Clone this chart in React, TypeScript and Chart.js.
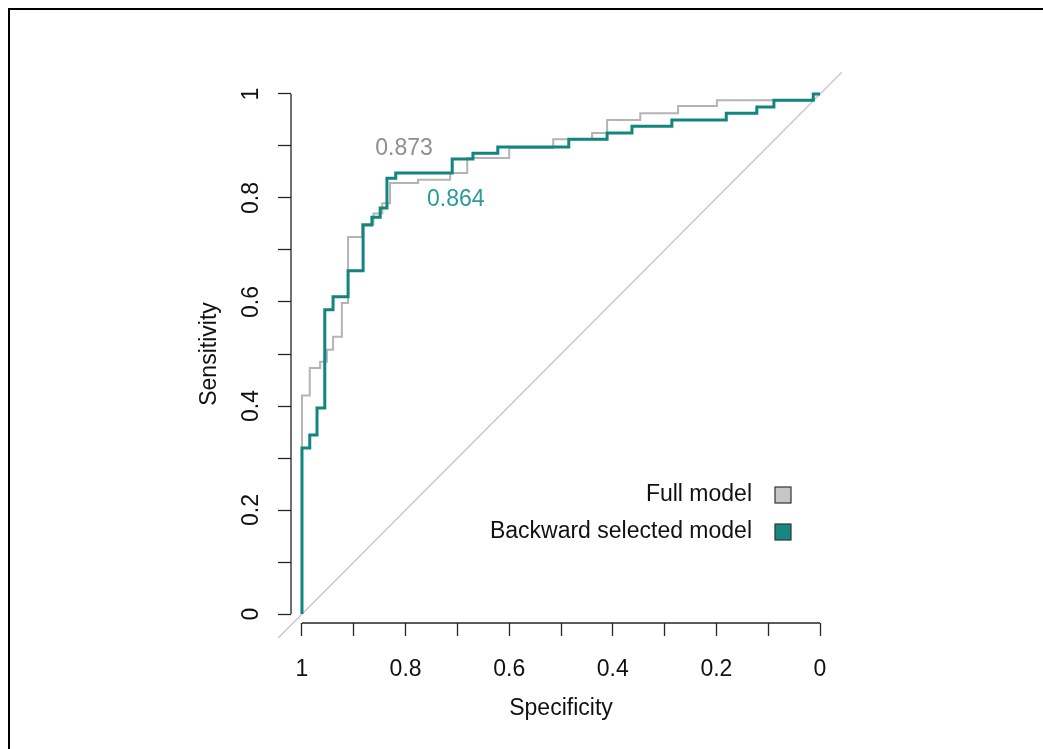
import React, { useEffect, useRef } from "react";
import { Chart, registerables } from "chart.js";

Chart.register(...registerables);

// ---- data (specificity, sensitivity) ----
const FULL_SPEC = [
  1.0, 1.0, 0.985, 0.985, 0.965, 0.965, 0.952, 0.952, 0.94, 0.94, 0.923, 0.923,
  0.911, 0.911, 0.884, 0.884, 0.862, 0.862, 0.845, 0.845, 0.83, 0.83, 0.776,
  0.776, 0.714, 0.714, 0.681, 0.681, 0.6, 0.6, 0.515, 0.515, 0.44, 0.44, 0.411,
  0.411, 0.347, 0.347, 0.274, 0.274, 0.199, 0.199, 0.013, 0.013, 0.0,
];
const FULL_SENS = [
  0.0, 0.42, 0.42, 0.473, 0.473, 0.485, 0.485, 0.508, 0.508, 0.533, 0.533, 0.598,
  0.598, 0.725, 0.725, 0.75, 0.75, 0.77, 0.77, 0.79, 0.79, 0.829, 0.829, 0.835,
  0.835, 0.848, 0.848, 0.877, 0.877, 0.896, 0.896, 0.913, 0.913, 0.925, 0.925,
  0.95, 0.95, 0.963, 0.963, 0.977, 0.977, 0.988, 0.988, 1.0, 1.0,
];
const BACK_SPEC = [
  1.0, 1.0, 0.985, 0.985, 0.971, 0.971, 0.956, 0.956, 0.94, 0.94, 0.911, 0.911,
  0.882, 0.882, 0.865, 0.865, 0.849, 0.849, 0.836, 0.836, 0.819, 0.819, 0.71,
  0.71, 0.67, 0.67, 0.622, 0.622, 0.485, 0.485, 0.411, 0.411, 0.363, 0.363,
  0.286, 0.286, 0.181, 0.181, 0.122, 0.122, 0.089, 0.089, 0.013, 0.013, 0.0,
];
const BACK_SENS = [
  0.0, 0.319, 0.319, 0.344, 0.344, 0.396, 0.396, 0.585, 0.585, 0.61, 0.61, 0.66,
  0.66, 0.748, 0.748, 0.763, 0.763, 0.781, 0.781, 0.838, 0.838, 0.848, 0.848,
  0.875, 0.875, 0.886, 0.886, 0.898, 0.898, 0.913, 0.913, 0.925, 0.925, 0.938,
  0.938, 0.95, 0.95, 0.963, 0.963, 0.975, 0.975, 0.988, 0.988, 1.0, 1.0,
];
const DIAG_SPEC = [1.046, -0.042];
const DIAG_SENS = [-0.046, 1.042];
const TICK_VALUES = [0, 0.1, 0.2, 0.3, 0.4, 0.5, 0.6, 0.7, 0.8, 0.9, 1];
const SERIES_NAMES = ["Full model", "Backward selected model"];
const AUC_TEXT = ["0.873", "0.864"];

const FONT = "'Liberation Sans', Arial, Helvetica, sans-serif";
const FS = 23;
const TEAL = "#12857f";
const TEAL_TEXT = "#2a9b98";
const GRAY = "#b4b4b4";
const GRAY_TEXT = "#8e8e8e";
const AXIS = "#262626";

const toPts = (xs: number[], ys: number[]) => xs.map((x, i) => ({ x, y: ys[i] }));

const axisLinePlugin = {
  id: "axisLines",
  afterDraw(chart: any) {
    const { ctx, chartArea, scales } = chart;
    const xs = scales.x;
    const ys = scales.y;
    ctx.save();
    ctx.strokeStyle = AXIS;
    ctx.lineWidth = 1.3;
    ctx.beginPath();
    ctx.moveTo(xs.getPixelForValue(1), chartArea.bottom);
    ctx.lineTo(xs.getPixelForValue(0), chartArea.bottom);
    ctx.moveTo(chartArea.left, ys.getPixelForValue(0));
    ctx.lineTo(chartArea.left, ys.getPixelForValue(1));
    ctx.stroke();
    ctx.restore();
  },
};

const aucPlugin = {
  id: "aucText",
  afterDatasetsDraw(chart: any, _args: any, opts: any) {
    const { ctx, scales } = chart;
    ctx.save();
    ctx.font = `${FS}px ${FONT}`;
    ctx.textAlign = "center";
    ctx.textBaseline = "middle";
    (opts.items || []).forEach((it: any) => {
      ctx.fillStyle = it.color;
      ctx.fillText(it.text, scales.x.getPixelForValue(it.spec), scales.y.getPixelForValue(it.sens));
    });
    ctx.restore();
  },
};

const legendPlugin = {
  id: "rocLegend",
  afterDraw(chart: any, _args: any, opts: any) {
    const { ctx } = chart;
    ctx.save();
    ctx.font = `${FS}px ${FONT}`;
    ctx.textAlign = "right";
    ctx.textBaseline = "middle";
    SERIES_NAMES.forEach((name, i) => {
      const ds = chart.data.datasets.find((d: any) => d.label === name);
      if (!ds) return;
      const y = opts.y + i * opts.gap;
      ctx.fillStyle = "#111";
      ctx.fillText(name, opts.textRight, y);
      const s = opts.box;
      ctx.fillStyle = ds.legendFill || ds.borderColor;
      ctx.fillRect(opts.boxX - s / 2, y - s / 2, s, s);
      ctx.strokeStyle = "#333";
      ctx.lineWidth = 1.2;
      ctx.strokeRect(opts.boxX - s / 2, y - s / 2, s, s);
    });
    ctx.restore();
  },
};

export default function App() {
  const ref = useRef<HTMLCanvasElement>(null);

  useEffect(() => {
    if (!ref.current) return;
    const tickFmt = (v: any) => {
      const n = Number(v);
      return Math.round(n * 10) % 2 === 0 ? String(Math.round(n * 10) / 10) : "";
    };
    const chart = new Chart(ref.current, {
      type: "line",
      data: {
        datasets: [
          {
            label: SERIES_NAMES[1],
            data: toPts(BACK_SPEC, BACK_SENS),
            borderColor: TEAL,
            legendFill: "#17877f",
            borderWidth: 3,
            pointRadius: 0,
            tension: 0,
            fill: false,
          } as any,
          {
            label: SERIES_NAMES[0],
            data: toPts(FULL_SPEC, FULL_SENS),
            borderColor: GRAY,
            legendFill: "#c6c6c6",
            borderWidth: 2,
            pointRadius: 0,
            tension: 0,
            fill: false,
          } as any,
          {
            label: "diagonal",
            data: toPts(DIAG_SPEC, DIAG_SENS),
            borderColor: "#c9c9c9",
            borderWidth: 1.5,
            pointRadius: 0,
            tension: 0,
            fill: false,
            clip: false,
          } as any,
        ],
      },
      options: {
        animation: false,
        responsive: false,
        events: [],
        layout: { padding: { left: 0, top: 85, right: 212, bottom: 0 } },
        plugins: {
          legend: { display: false },
          tooltip: { enabled: false },
          aucText: {
            items: [
              { text: AUC_TEXT[0], spec: 0.803, sens: 0.894, color: GRAY_TEXT },
              { text: AUC_TEXT[1], spec: 0.703, sens: 0.797, color: TEAL_TEXT },
            ],
          },
          rocLegend: { y: 495, gap: 37, textRight: 752, boxX: 783, box: 16 },
        } as any,
        scales: {
          x: {
            type: "linear",
            reverse: true,
            min: -0.0212,
            max: 1.0212,
            afterBuildTicks: (s: any) => {
              s.ticks = TICK_VALUES.map((v) => ({ value: v }));
            },
            afterFit: (s: any) => {
              s.height = 126;
            },
            border: { display: false },
            grid: {
              display: true,
              drawOnChartArea: false,
              drawTicks: true,
              tickLength: 13,
              tickColor: AXIS,
              tickWidth: 1.3,
            },
            ticks: {
              autoSkip: false,
              maxRotation: 0,
              minRotation: 0,
              padding: 20,
              color: "#111",
              font: { family: FONT, size: FS },
              callback: tickFmt,
            },
            title: {
              display: true,
              text: "Specificity",
              color: "#111",
              font: { family: FONT, size: FS },
              padding: { top: 0, bottom: 27 },
            },
          },
          y: {
            type: "linear",
            min: -0.0173,
            max: 1.0173,
            afterBuildTicks: (s: any) => {
              s.ticks = TICK_VALUES.map((v) => ({ value: v }));
            },
            afterFit: (s: any) => {
              s.width = 291;
            },
            border: { display: false },
            grid: {
              display: true,
              drawOnChartArea: false,
              drawTicks: true,
              tickLength: 13,
              tickColor: AXIS,
              tickWidth: 1.3,
            },
            ticks: {
              autoSkip: false,
              minRotation: 90,
              maxRotation: 90,
              crossAlign: "center",
              padding: 10,
              color: "#111",
              font: { family: FONT, size: FS },
              callback: tickFmt,
            },
            title: {
              display: true,
              text: "Sensitivity",
              color: "#111",
              font: { family: FONT, size: FS },
              padding: { top: 196, bottom: 0 },
            },
          },
        },
      } as any,
      plugins: [axisLinePlugin, aucPlugin, legendPlugin],
    });
    return () => chart.destroy();
  }, []);

  return (
    <div
      style={{
        position: "fixed",
        left: 0,
        top: 0,
        width: 1043,
        height: 749,
        overflow: "hidden",
        background: "#fff",
      }}
    >
      <canvas ref={ref} width={1043} height={749} style={{ display: "block" }} />
      <div
        style={{
          position: "absolute",
          left: 8,
          top: 8,
          right: -20,
          bottom: -20,
          borderTop: "2px solid #000",
          borderLeft: "2px solid #000",
          pointerEvents: "none",
        }}
      />
    </div>
  );
}
